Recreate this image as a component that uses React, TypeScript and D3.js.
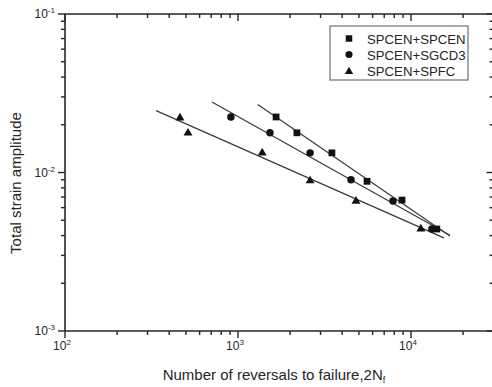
import { useRef, useEffect } from 'react';
import * as d3 from 'd3';

// Reversals to failure (2Nf) and strain amplitude
const seriesNames = ['SPCEN+SPCEN', 'SPCEN+SGCD3', 'SPCEN+SPFC'];
const spcenN = [1660, 2190, 3490, 5570, 8870, 14100];
const spcenE = [0.0224, 0.0178, 0.0133, 0.0088, 0.0067, 0.0044];
const sgcd3N = [910, 1530, 2610, 4500, 7870, 13200];
const sgcd3E = [0.0224, 0.0178, 0.0133, 0.009, 0.0066, 0.0044];
const spfcN = [462, 514, 1380, 2610, 4810, 11400];
const spfcE = [0.0224, 0.018, 0.0135, 0.009, 0.0067, 0.00447];
// x extent of each fitted line
const fitFrom = [1300, 707, 336];
const fitTo = [16800, 16800, 15500];

const xMajor = [100, 1000, 10000];
const yMajor = [0.001, 0.01, 0.1];
const xMinor = [200, 300, 400, 500, 600, 700, 800, 900, 2000, 3000, 4000, 5000, 6000, 7000, 8000, 9000, 20000];
const yMinor = [0.002, 0.003, 0.004, 0.005, 0.006, 0.007, 0.008, 0.009, 0.02, 0.03, 0.04, 0.05, 0.06, 0.07, 0.08, 0.09];

const W = 492;
const H = 387;
const ink = '#262626';

export default function App() {
  const svgRef = useRef<SVGSVGElement>(null);

  useEffect(() => {
    if (!svgRef.current) return;
    const svg = d3.select(svgRef.current);
    svg.selectAll('*').remove();

    const left = 65;
    const top = 14;
    const bottom = 331;
    const decade = 173;
    const x = d3.scaleLog().domain([100, 30000]).range([left, left + decade * Math.log10(300)]);
    const y = d3.scaleLog().domain([0.001, 0.1]).range([bottom, top]);
    const right = x(30000);

    const font = 'Arial, "Liberation Sans", sans-serif';

    // frame (right side falls just outside the picture)
    const frame = svg.append('g').attr('stroke', ink).attr('stroke-width', 1.6).attr('fill', 'none');
    frame.append('line').attr('x1', left).attr('x2', right).attr('y1', top).attr('y2', top);
    frame.append('line').attr('x1', left).attr('x2', right).attr('y1', bottom).attr('y2', bottom);
    frame.append('line').attr('x1', left).attr('x2', left).attr('y1', top).attr('y2', bottom);

    const ticks = svg.append('g').attr('stroke', ink).attr('stroke-width', 1.4);
    const tickX = (v: number, len: number) => {
      // bottom: outward, top: inward
      ticks.append('line').attr('x1', x(v)).attr('x2', x(v)).attr('y1', bottom).attr('y2', bottom + len);
      ticks.append('line').attr('x1', x(v)).attr('x2', x(v)).attr('y1', top).attr('y2', top + len);
    };
    const tickY = (v: number, len: number) => {
      // left: outward, right: inward
      ticks.append('line').attr('x1', left - len).attr('x2', left).attr('y1', y(v)).attr('y2', y(v));
      ticks.append('line').attr('x1', right - len).attr('x2', right).attr('y1', y(v)).attr('y2', y(v));
    };
    xMajor.forEach((v) => tickX(v, 7));
    xMinor.forEach((v) => tickX(v, 4));
    yMajor.forEach((v) => tickY(v, 7));
    yMinor.forEach((v) => tickY(v, 4));

    // tick labels
    xMajor.forEach((v) => {
      const t = svg
        .append('text')
        .attr('x', x(v) - 3)
        .attr('y', bottom + 19)
        .attr('text-anchor', 'middle')
        .attr('font-family', font)
        .attr('font-size', 12)
        .attr('fill', ink);
      t.append('tspan').text('10');
      t.append('tspan').attr('dy', -5).attr('font-size', 8).text(String(Math.round(Math.log10(v))));
    });
    yMajor.forEach((v) => {
      const t = svg
        .append('text')
        .attr('x', left - 10)
        .attr('y', y(v) + 4)
        .attr('text-anchor', 'end')
        .attr('font-family', font)
        .attr('font-size', 12)
        .attr('fill', ink);
      t.append('tspan').text('10');
      t.append('tspan').attr('dy', -5).attr('font-size', 8).text(String(Math.round(Math.log10(v))));
    });

    // axis titles
    const xt = svg
      .append('text')
      .attr('x', 274)
      .attr('y', 380)
      .attr('text-anchor', 'middle')
      .attr('font-family', font)
      .attr('font-size', 15)
      .attr('fill', ink);
    xt.append('tspan').text('Number of reversals to failure,2N');
    xt.append('tspan').attr('dy', 3).attr('font-size', 9).text('f');

    svg
      .append('text')
      .attr('transform', `translate(21,183) rotate(-90)`)
      .attr('text-anchor', 'middle')
      .attr('font-family', font)
      .attr('font-size', 15)
      .attr('fill', ink)
      .text('Total strain amplitude');

    // fitted lines (least squares in log-log space)
    const series = [
      { n: spcenN, e: spcenE },
      { n: sgcd3N, e: sgcd3E },
      { n: spfcN, e: spfcE },
    ];
    series.forEach((s, i) => {
      const lx = s.n.map(Math.log10);
      const ly = s.e.map(Math.log10);
      const mx = d3.mean(lx) || 0;
      const my = d3.mean(ly) || 0;
      const b = d3.sum(lx, (v, k) => (v - mx) * (ly[k] - my)) / d3.sum(lx, (v) => (v - mx) ** 2);
      const a = my - b * mx;
      const f = (n: number) => Math.pow(10, a + b * Math.log10(n));
      svg
        .append('line')
        .attr('x1', x(fitFrom[i]))
        .attr('y1', y(f(fitFrom[i])))
        .attr('x2', x(fitTo[i]))
        .attr('y2', y(f(fitTo[i])))
        .attr('stroke', '#3a3a3a')
        .attr('stroke-width', 1.2);
    });

    // markers
    const symbols = [d3.symbolSquare, d3.symbolCircle, d3.symbolTriangle];
    const sizes = [46, 44, 34];
    series.forEach((s, i) => {
      const path = d3.symbol().type(symbols[i]).size(sizes[i])();
      svg
        .append('g')
        .selectAll('path')
        .data(s.n.map((n, k) => [n, s.e[k]]))
        .enter()
        .append('path')
        .attr('d', path)
        .attr('transform', (d) => `translate(${x(d[0])},${y(d[1]) + (i === 2 ? 1 : 0)})`)
        .attr('fill', '#111');
    });

    // legend
    const lg = svg.append('g').attr('transform', 'translate(330,26)');
    lg.append('rect')
      .attr('width', 138)
      .attr('height', 54)
      .attr('fill', 'white')
      .attr('stroke', '#555')
      .attr('stroke-width', 1);
    seriesNames.forEach((name, i) => {
      const cy = 12.5 + i * 16;
      lg.append('path')
        .attr('d', d3.symbol().type(symbols[i]).size(sizes[i] - 4)())
        .attr('transform', `translate(19,${cy + (i === 2 ? 1 : 0)})`)
        .attr('fill', '#111');
      lg.append('text')
        .attr('x', 37)
        .attr('y', cy + 5)
        .attr('font-family', font)
        .attr('font-size', 13.2)
        .attr('fill', ink)
        .text(name);
    });
  }, []);

  return (
    <svg
      ref={svgRef}
      width={W}
      height={H}
      style={{ position: 'absolute', left: 0, top: 0, background: 'white' }}
    />
  );
}
